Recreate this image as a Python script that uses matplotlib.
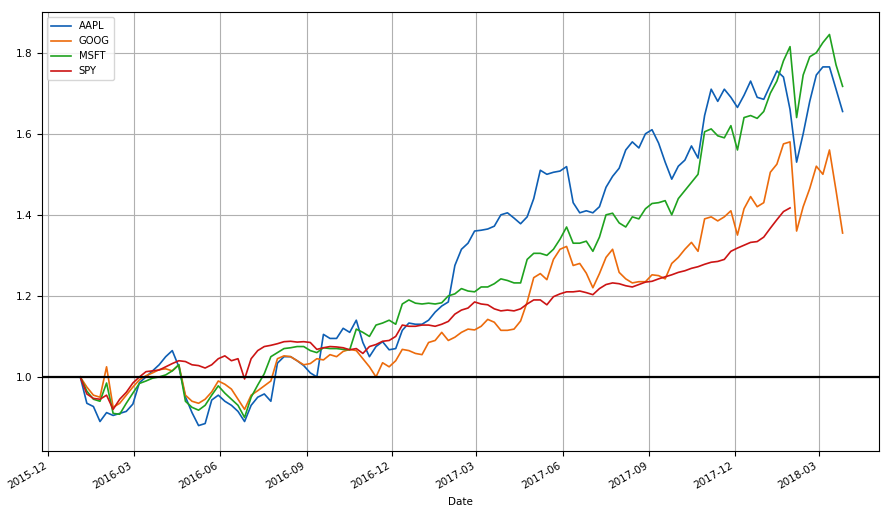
import pandas as pd
import matplotlib
matplotlib.use("Agg")
import matplotlib.pyplot as plt
import matplotlib.dates as mdates

# weekly closes (Mondays), normalised to the first day
start_date = "2016-01-04"

aapl = [1.000, 0.935, 0.927, 0.890, 0.912, 0.905, 0.910, 0.915, 0.933, 0.986,
        1.000, 1.015, 1.030, 1.050, 1.065, 1.025, 0.951, 0.912, 0.880, 0.885,
        0.943, 0.955, 0.940, 0.930, 0.915, 0.890, 0.930, 0.950, 0.958, 0.940,
        1.034, 1.050, 1.050, 1.040, 1.028, 1.010, 1.000, 1.105, 1.095, 1.095,
        1.120, 1.110, 1.140, 1.085, 1.050, 1.075, 1.087, 1.067, 1.070, 1.115,
        1.133, 1.130, 1.130, 1.140, 1.160, 1.175, 1.185, 1.275, 1.315, 1.330,
        1.360, 1.362, 1.365, 1.372, 1.400, 1.405, 1.392, 1.378, 1.395, 1.440,
        1.510, 1.500, 1.505, 1.508, 1.519, 1.430, 1.405, 1.410, 1.405, 1.420,
        1.468, 1.495, 1.515, 1.560, 1.580, 1.565, 1.600, 1.610, 1.577, 1.530,
        1.488, 1.520, 1.535, 1.570, 1.540, 1.645, 1.710, 1.680, 1.710, 1.690,
        1.665, 1.695, 1.730, 1.690, 1.685, 1.720, 1.755, 1.740, 1.660, 1.530,
        1.600, 1.680, 1.745, 1.765, 1.765, 1.710, 1.655]

goog = [1.000, 0.975, 0.955, 0.950, 1.025, 0.925, 0.935, 0.955, 0.975, 0.993,
        1.003, 1.010, 1.018, 1.020, 1.015, 1.030, 0.955, 0.940, 0.935, 0.945,
        0.963, 0.990, 0.982, 0.970, 0.945, 0.920, 0.955, 0.966, 0.978, 0.990,
        1.045, 1.052, 1.050, 1.040, 1.030, 1.033, 1.045, 1.042, 1.055, 1.050,
        1.063, 1.068, 1.065, 1.045, 1.025, 1.000, 1.035, 1.025, 1.040, 1.068,
        1.065, 1.058, 1.055, 1.085, 1.090, 1.110, 1.090, 1.098, 1.110, 1.118,
        1.116, 1.125, 1.142, 1.135, 1.115, 1.115, 1.118, 1.138, 1.185, 1.245,
        1.255, 1.240, 1.290, 1.315, 1.322, 1.275, 1.280, 1.256, 1.220, 1.255,
        1.295, 1.315, 1.258, 1.242, 1.232, 1.235, 1.235, 1.252, 1.250, 1.242,
        1.280, 1.295, 1.315, 1.332, 1.310, 1.390, 1.395, 1.385, 1.395, 1.410,
        1.350, 1.415, 1.445, 1.420, 1.430, 1.505, 1.525, 1.575, 1.580, 1.360,
        1.420, 1.465, 1.520, 1.500, 1.560, 1.460, 1.355]

msft = [1.000, 0.965, 0.945, 0.940, 0.985, 0.910, 0.908, 0.935, 0.960, 0.984,
        0.990, 0.997, 1.000, 1.005, 1.015, 1.030, 0.940, 0.925, 0.918, 0.930,
        0.955, 0.978, 0.960, 0.945, 0.930, 0.900, 0.950, 0.980, 1.008, 1.050,
        1.060, 1.070, 1.072, 1.075, 1.075, 1.065, 1.060, 1.072, 1.070, 1.070,
        1.068, 1.067, 1.118, 1.110, 1.100, 1.128, 1.133, 1.140, 1.130, 1.180,
        1.190, 1.182, 1.180, 1.182, 1.180, 1.183, 1.200, 1.205, 1.218, 1.212,
        1.210, 1.222, 1.222, 1.230, 1.242, 1.238, 1.232, 1.232, 1.290, 1.305,
        1.305, 1.300, 1.315, 1.340, 1.370, 1.330, 1.330, 1.335, 1.310, 1.345,
        1.400, 1.404, 1.380, 1.370, 1.395, 1.390, 1.415, 1.428, 1.430, 1.435,
        1.400, 1.440, 1.460, 1.480, 1.500, 1.605, 1.612, 1.595, 1.590, 1.620,
        1.560, 1.640, 1.645, 1.638, 1.655, 1.700, 1.730, 1.780, 1.815, 1.640,
        1.745, 1.790, 1.800, 1.825, 1.845, 1.770, 1.717]

# SPY stops at the end of January 2018
spy = [1.000, 0.958, 0.947, 0.945, 0.955, 0.920, 0.945, 0.962, 0.985, 1.000,
       1.013, 1.015, 1.017, 1.025, 1.033, 1.040, 1.038, 1.030, 1.028, 1.022,
       1.030, 1.045, 1.052, 1.040, 1.045, 0.995, 1.045, 1.065, 1.075, 1.078,
       1.082, 1.087, 1.088, 1.086, 1.087, 1.085, 1.068, 1.072, 1.075, 1.074,
       1.072, 1.067, 1.070, 1.058, 1.075, 1.080, 1.088, 1.090, 1.100, 1.128,
       1.125, 1.125, 1.128, 1.128, 1.125, 1.130, 1.137, 1.155, 1.165, 1.170,
       1.185, 1.180, 1.178, 1.168, 1.163, 1.165, 1.163, 1.168, 1.180, 1.190,
       1.190, 1.178, 1.198, 1.205, 1.210, 1.210, 1.212, 1.208, 1.203, 1.218,
       1.228, 1.232, 1.230, 1.225, 1.222, 1.228, 1.234, 1.236, 1.242, 1.247,
       1.252, 1.258, 1.262, 1.268, 1.272, 1.278, 1.283, 1.285, 1.290, 1.310,
       1.318, 1.325, 1.332, 1.334, 1.345, 1.367, 1.388, 1.408, 1.417]

tickers = ["AAPL", "GOOG", "MSFT", "SPY"]
farben = ["#0e5fb4", "#ec6b0c", "#1fa21f", "#cc1414"]

dates = pd.date_range(start_date, periods=len(aapl), freq="7D")

plt.rcParams["font.size"] = 7.5
fig = plt.figure(figsize=(8.89, 5.08), dpi=100)
ax = fig.add_subplot(111)

for name, werte, farbe in zip(tickers, [aapl, goog, msft, spy], farben):
    ax.plot(dates[:len(werte)], werte, color=farbe, lw=1.2, label=name)

ax.axhline(1.0, color="black", lw=1.6)

ax.xaxis.set_major_locator(mdates.MonthLocator(bymonth=[3, 6, 9, 12]))
ax.xaxis.set_major_formatter(mdates.DateFormatter("%Y-%m"))
ax.set_yticks([1.0, 1.2, 1.4, 1.6, 1.8])
ax.set_ylim(0.817, 1.90)
ax.set_xlim(pd.Timestamp("2015-11-24"), pd.Timestamp("2018-05-04"))
ax.set_xlabel("Date")
ax.grid(True, color="#b0b0b0", lw=0.8)
ax.legend(loc="upper left", fontsize=7.2)

for lab in ax.get_xticklabels():
    lab.set_rotation(30)
    lab.set_ha("right")

fig.subplots_adjust(left=0.047, right=0.989, bottom=0.112, top=0.976)
fig.savefig("out.png", dpi=100)
